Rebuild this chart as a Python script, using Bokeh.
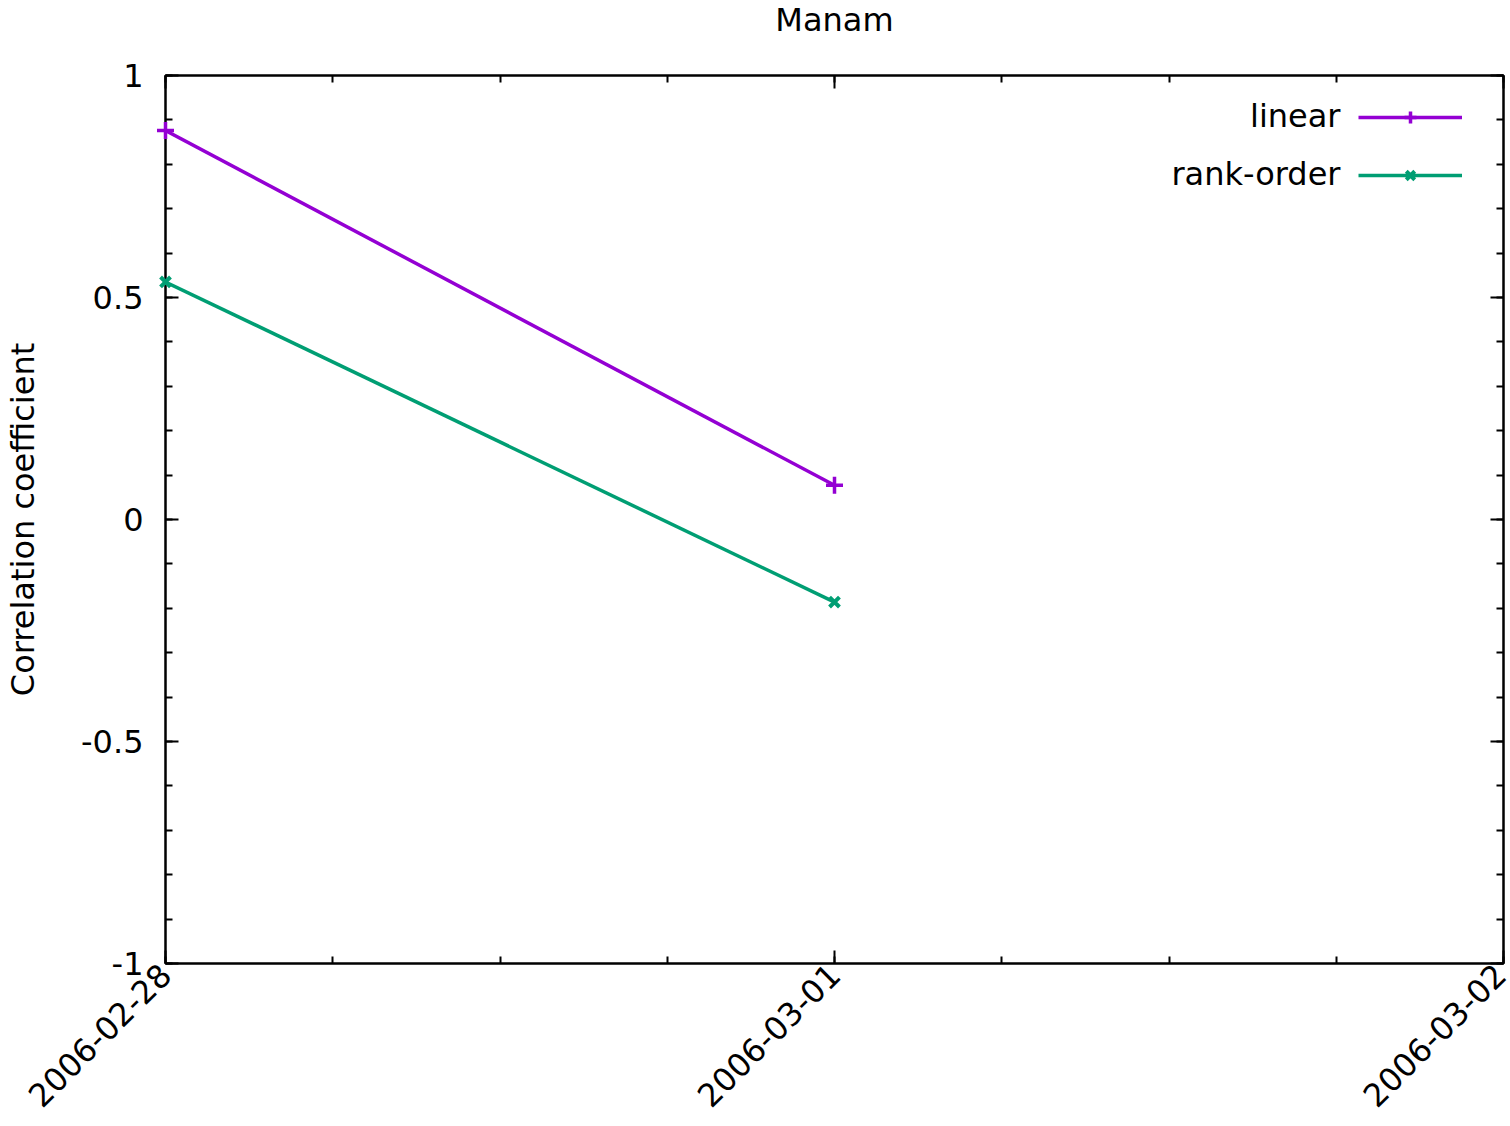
import numpy as np
import pandas as pd
from math import pi
from bokeh.plotting import figure
from bokeh.models import (Range1d, FixedTicker, DatetimeTickFormatter, LinearAxis,
                          DatetimeAxis, Legend, LegendItem, Label)
from bokeh.embed import file_html
from bokeh.resources import INLINE

# ---- data ----
title_text = "Manam"
y_label = "Correlation coefficient"
dates = ["2006-02-28", "2006-03-01"]
linear = [0.876, 0.077]
rank_order = [0.535, -0.186]
series_names = ["linear", "rank-order"]
x_tick_dates = ["2006-02-28", "2006-03-01", "2006-03-02"]
y_ticks = [-1, -0.5, 0, 0.5, 1]
y_tick_labels = ["-1", "-0.5", "0", "0.5", "1"]

FONT = "DejaVu Sans"
FS = "32px"
PURPLE = "#9400d3"
GREEN = "#009e73"

def to_ms(s):
    return pd.Timestamp(s).value / 1e6

x = [to_ms(d) for d in dates]
xt = [to_ms(d) for d in x_tick_dates]
six_h = 6 * 3600 * 1000.0
x_minor = list(np.arange(xt[0], xt[-1] + 1, six_h))
y_minor = [float(v) for v in np.round(np.arange(-1, 1.0001, 0.1), 1)]

FW, FH = 1338, 888  # frame size in px

p = figure(width=1508, height=1124, x_axis_type="datetime",
           x_range=Range1d(xt[0], xt[-1]), y_range=Range1d(-1, 1),
           output_backend="svg", toolbar_location=None,
           min_border_left=165, min_border_right=5, min_border_top=75,
           min_border_bottom=161, background_fill_color="white",
           border_fill_color="white")
p.xgrid.visible = False
p.ygrid.visible = False
p.outline_line_color = "black"
p.outline_line_width = 2

xticker = FixedTicker(ticks=xt, minor_ticks=x_minor)
yticker = FixedTicker(ticks=y_ticks, minor_ticks=y_minor)
fmt = "%Y-%m-%d"
xfmt = DatetimeTickFormatter(microseconds=fmt, milliseconds=fmt, seconds=fmt,
                             minsec=fmt, minutes=fmt, hourmin=fmt, hours=fmt,
                             days=fmt, months=fmt, years=fmt)

def style(ax):
    ax.axis_line_width = 2
    ax.axis_line_color = "black"
    ax.major_tick_line_width = 2
    ax.minor_tick_line_width = 2
    ax.major_tick_in = 13
    ax.major_tick_out = 0
    ax.minor_tick_in = 7
    ax.minor_tick_out = 0
    ax.major_label_text_font = FONT
    ax.major_label_text_font_size = FS
    ax.major_label_text_color = "black"

xa = p.xaxis[0]
xa.ticker = xticker
xa.formatter = xfmt
style(xa)
xa.major_label_orientation = pi / 4
xa.major_label_standoff = 6

ya = p.yaxis[0]
ya.ticker = yticker
ya.major_label_overrides = {float(v): s for v, s in zip(y_ticks, y_tick_labels)}
style(ya)
ya.major_label_standoff = 22
ya.axis_label = y_label
ya.axis_label_text_font = FONT
ya.axis_label_text_font_size = FS
ya.axis_label_text_font_style = "normal"
ya.axis_label_text_color = "black"
ya.axis_label_standoff = 36

ra = LinearAxis(ticker=yticker)
style(ra)
ra.major_label_text_font_size = "0px"
ra.major_label_standoff = 0
p.add_layout(ra, "right")

# mirrored top axis; its (invisible) axis label acts as a spacer under the title
ta = DatetimeAxis(ticker=xticker, formatter=xfmt)
style(ta)
ta.major_label_text_font_size = "0px"
ta.major_label_standoff = 0
ta.axis_label = " "
ta.axis_label_text_font_size = "10px"
ta.axis_label_text_alpha = 0
ta.axis_label_standoff = 21
p.add_layout(ta, "above")

p.title.text = title_text
p.title.align = "center"
p.title.vertical_align = "top"
p.title.text_font = FONT
p.title.text_font_size = FS
p.title.text_font_style = "normal"
p.title.text_color = "black"
p.title.standoff = 0

l1 = p.line(x, linear, line_color=PURPLE, line_width=3.5)
m1 = p.scatter(x, linear, marker="cross", size=17, line_color=PURPLE,
               line_width=3.5, level="overlay")
l2 = p.line(x, rank_order, line_color=GREEN, line_width=3.5)
m2 = p.scatter(x, rank_order, marker="x", size=14, line_color=GREEN,
               line_width=4, level="overlay")

legend = Legend(items=[LegendItem(label=" ", renderers=[l1, m1]),
                       LegendItem(label=" ", renderers=[l2, m2])],
                location=(1193, 773), glyph_width=104, glyph_height=30,
                spacing=28, padding=0, margin=0, border_line_color=None,
                background_fill_alpha=0, label_text_font_size="1px",
                label_standoff=0, label_width=0, label_height=1)
p.add_layout(legend)

for name, yy in zip(series_names, [FH - 40, FH - 98]):
    p.add_layout(Label(x=1175, y=yy, x_units="screen", y_units="screen",
                       text=name, text_align="right", text_baseline="middle",
                       text_font=FONT, text_font_size=FS, text_color="black"))

open("out.html", "w").write(file_html(p, INLINE))
